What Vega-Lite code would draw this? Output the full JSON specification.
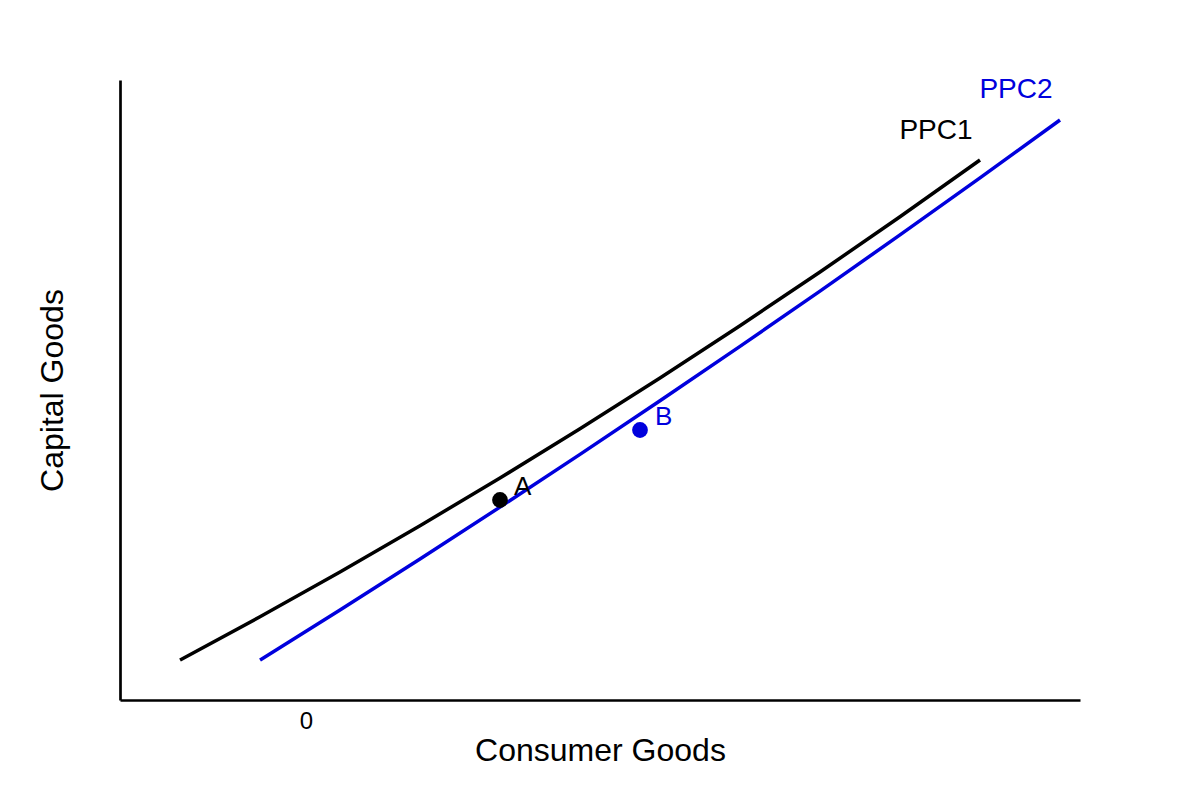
{
  "$schema": "https://vega.github.io/schema/vega-lite/v6.json",
  "width": 960,
  "height": 620,
  "autosize": {"type": "none"},
  "padding": {"left": 120, "top": 80, "right": 120, "bottom": 100},
  "background": "white",
  "config": {
    "view": {"stroke": null},
    "font": "Liberation Sans"
  },
  "datasets": {
    "curves": [
      {"series": "PPC1", "x": 60, "y": 40},
      {"series": "PPC1", "x": 140, "y": 83.25},
      {"series": "PPC1", "x": 220, "y": 128},
      {"series": "PPC1", "x": 300, "y": 174.25},
      {"series": "PPC1", "x": 380, "y": 222},
      {"series": "PPC1", "x": 460, "y": 271.25},
      {"series": "PPC1", "x": 540, "y": 322},
      {"series": "PPC1", "x": 620, "y": 374.25},
      {"series": "PPC1", "x": 700, "y": 428},
      {"series": "PPC1", "x": 780, "y": 483.25},
      {"series": "PPC1", "x": 860, "y": 540},
      {"series": "PPC2", "x": 140, "y": 40},
      {"series": "PPC2", "x": 220, "y": 90.1},
      {"series": "PPC2", "x": 300, "y": 141.1},
      {"series": "PPC2", "x": 380, "y": 192.9},
      {"series": "PPC2", "x": 460, "y": 245.6},
      {"series": "PPC2", "x": 540, "y": 299.2},
      {"series": "PPC2", "x": 620, "y": 353.6},
      {"series": "PPC2", "x": 700, "y": 408.9},
      {"series": "PPC2", "x": 780, "y": 465.1},
      {"series": "PPC2", "x": 860, "y": 522.1},
      {"series": "PPC2", "x": 940, "y": 580}
    ],
    "points": [
      {"series": "PPC1", "name": "A", "x": 380, "y": 200},
      {"series": "PPC2", "name": "B", "x": 520, "y": 270}
    ],
    "labels": [
      {"series": "PPC1", "text": "PPC1", "x": 816, "y": 569, "kind": "curve"},
      {"series": "PPC2", "text": "PPC2", "x": 896, "y": 610, "kind": "curve"},
      {"series": "PPC1", "text": "A", "x": 394, "y": 213, "kind": "point"},
      {"series": "PPC2", "text": "B", "x": 535, "y": 283, "kind": "point"}
    ]
  },
  "encoding": {
    "x": {
      "field": "x",
      "type": "quantitative",
      "scale": {"domain": [0, 960], "nice": false, "zero": false},
      "axis": {
        "title": "Consumer Goods",
        "titleFontSize": 32,
        "titleFontWeight": "normal",
        "titleColor": "black",
        "titleY": 60,
        "titleBaseline": "alphabetic",
        "values": [186],
        "labelExpr": "'0'",
        "labelFontSize": 24,
        "labelColor": "black",
        "labelPadding": 9,
        "ticks": false,
        "grid": false,
        "domainColor": "black",
        "domainWidth": 2.7
      }
    },
    "y": {
      "field": "y",
      "type": "quantitative",
      "scale": {"domain": [0, 620], "nice": false, "zero": false},
      "axis": {
        "title": "Capital Goods",
        "titleFontSize": 32,
        "titleFontWeight": "normal",
        "titleColor": "black",
        "titleX": -58,
        "titleBaseline": "alphabetic",
        "labels": false,
        "ticks": false,
        "grid": false,
        "domainColor": "black",
        "domainWidth": 2.7
      }
    },
    "color": {
      "field": "series",
      "type": "nominal",
      "scale": {"domain": ["PPC1", "PPC2"], "range": ["#000000", "#0000dd"]},
      "legend": null
    }
  },
  "layer": [
    {
      "data": {"name": "curves"},
      "mark": {"type": "line", "interpolate": "monotone", "strokeWidth": 3.5},
      "encoding": {"detail": {"field": "series"}}
    },
    {
      "data": {"name": "points"},
      "mark": {"type": "point", "filled": true, "opacity": 1, "size": 250, "shape": "circle"}
    },
    {
      "data": {"name": "labels"},
      "transform": [{"filter": "datum.kind === 'curve'"}],
      "mark": {"type": "text", "fontSize": 28, "align": "center", "baseline": "middle"},
      "encoding": {"text": {"field": "text"}}
    },
    {
      "data": {"name": "labels"},
      "transform": [{"filter": "datum.kind === 'point'"}],
      "mark": {"type": "text", "fontSize": 26, "align": "left", "baseline": "middle"},
      "encoding": {"text": {"field": "text"}}
    }
  ]
}
